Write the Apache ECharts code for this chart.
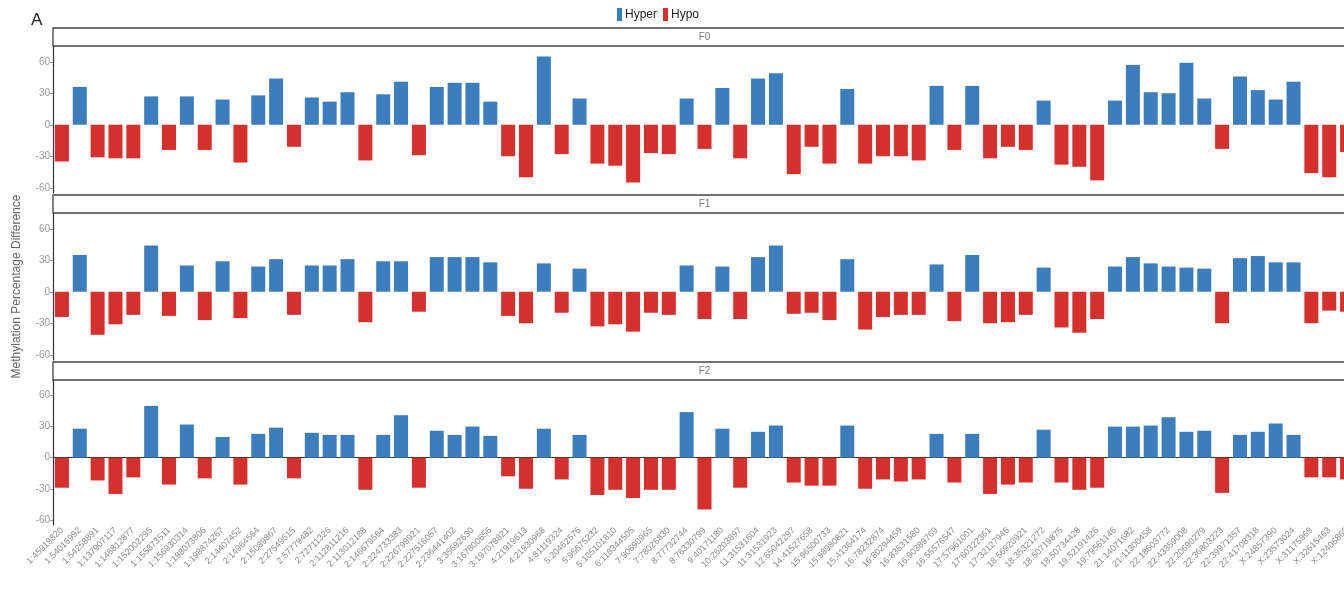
<!DOCTYPE html>
<html>
<head>
<meta charset="utf-8">
<script src="https://cdn.jsdelivr.net/npm/echarts@6/dist/echarts.min.js"></script>
<style>html,body{margin:0;padding:0;background:#fff}#c{width:1344px;height:605px}</style>
</head>
<body>
<div id="c"></div>
<script>
const categories = [
"1:45919820","1:54016992","1:54258891","1:137907117","1:146812877","1:152002295","1:155873511","1:156930314","1:198073806","1:198874267",
"2:14407452","2:14964564","2:15089867","2:27549615","2:57779482","2:72711326","2:112811216","2:113012188","2:146679564","2:224733383",
"2:226799921","2:227516057","2:236441402","3:35692630","3:167800656","3:197078821","4:21919613","4:21930968","4:81119324","5:20462576",
"5:95675232","5:105101810","6:118344505","7:90690965","7:78026830","8:77732744","8:76330799","9:40171180","10:26203897","11:31531604",
"11:31531923","12:65042297","14:41527658","15:96500733","15:98980821","15:41364174","16:78232874","16:80294459","16:83631580","16:90389769",
"16:55576547","17:57961001","17:60322361","17:32127946","18:56920921","18:35321272","18:50719875","18:50734428","19:52191426","19:79561146",
"21:14071682","21:11300458","22:18603772","22:43359008","22:20690279","22:36803223","22:39971357","22:41708318","X:24857390","X:23573024",
"X:31175969","X:32615463","X:12406869"
];
const panels = ["F0", "F1", "F2"];
const valuesF0 = [
-35,36,-31,-32,-32,27,-24,27,-24,24,
-36,28,44,-21,26,22,31,-34,29,41,
-29,36,40,40,22,-30,-50,65,-28,25,
-37,-39,-55,-27,-28,25,-23,35,-32,44,
49,-47,-21,-37,34,-37,-30,-30,-34,37,
-24,37,-32,-21,-24,23,-38,-40,-53,23,
57,31,30,59,25,-23,46,33,24,41,
-46,-50,-26
];
const valuesF1 = [
-24,35,-41,-31,-22,44,-23,25,-27,29,
-25,24,31,-22,25,25,31,-29,29,29,
-19,33,33,33,28,-23,-30,27,-20,22,
-33,-31,-38,-20,-22,25,-26,24,-26,33,
44,-21,-20,-27,31,-36,-24,-22,-22,26,
-28,35,-30,-29,-22,23,-34,-39,-26,24,
33,27,24,23,22,-30,32,34,28,28,
-30,-18,-19
];
const valuesF2 = [
-29,28,-22,-35,-19,50,-26,32,-20,20,
-26,23,29,-20,24,22,22,-31,22,41,
-29,26,22,30,21,-18,-30,28,-21,22,
-36,-31,-39,-31,-31,44,-50,28,-29,25,
31,-24,-27,-27,31,-30,-21,-23,-21,23,
-24,23,-35,-26,-24,27,-24,-31,-29,30,
30,31,39,25,26,-34,22,25,33,22,
-19,-19,-21
];
const panelValues = [valuesF0, valuesF1, valuesF2];
const yTicks = [-60, -30, 0, 30, 60];
const legendNames = ["Hyper", "Hypo"];

const BLUE = "#3b7dbd", RED = "#d6302c";
const L = 53, W = 1303;
const tops = [46, 213, 380];
const H = 147;
const stripH = 18;

const chart = echarts.init(document.getElementById('c'), null, {renderer: 'canvas'});
const grids = [], xAxes = [], yAxes = [], series = [], graphics = [];
panels.forEach((p, i) => {
  grids.push({left: L, width: W, top: tops[i], height: H - (i === 2 ? 2 : 0), containLabel: false, outerBoundsMode: 'none'});
  xAxes.push({
    type: 'category', gridIndex: i, data: categories,
    axisLine: {show: i === 2, lineStyle: {color: '#333', width: 1.2}},
    axisTick: {show: false},
    axisLabel: i === 2 ? {show: true, interval: 0, rotate: 45, fontSize: 9, color: '#8a8a8a', margin: 4, fontFamily: 'Liberation Sans'} : {show: false}
  });
  yAxes.push({
    type: 'value', gridIndex: i, min: -65, max: 75,
    axisLine: {show: true, onZero: false, lineStyle: {color: '#333', width: 1.2}},
    axisTick: {show: true, length: 3, lineStyle: {color: '#999'}, customValues: yTicks},
    axisLabel: {color: '#9a9a9a', fontSize: 10, margin: 3, customValues: yTicks, fontFamily: 'Liberation Sans'},
    splitLine: {show: false},
    name: i === 1 ? 'Methylation Percentage Difference' : '',
    nameLocation: 'middle', nameGap: 30, nameRotate: 90,
    nameTextStyle: {color: '#666', fontSize: 12, fontFamily: 'Liberation Sans'}
  });
  const vals = panelValues[i];
  series.push({
    name: legendNames[0], type: 'bar', xAxisIndex: i, yAxisIndex: i,
    data: vals.map(v => v > 0 ? v : '-'), barWidth: 14, barGap: '-100%',
    itemStyle: {color: BLUE}
  });
  series.push({
    name: legendNames[1], type: 'bar', xAxisIndex: i, yAxisIndex: i,
    data: vals.map(v => v < 0 ? v : '-'), barWidth: 14, barGap: '-100%',
    itemStyle: {color: RED}
  });
  graphics.push({
    type: 'rect', shape: {x: L, y: tops[i] - stripH, width: 1400, height: stripH},
    style: {fill: '#fff', stroke: '#444', lineWidth: 1.3}, z: 10
  });
  graphics.push({
    type: 'text', x: L + W / 2, y: tops[i] - stripH / 2,
    style: {text: p, fill: '#777', fontSize: 10, align: 'center', verticalAlign: 'middle', fontFamily: 'Liberation Sans'}, z: 11
  });
});
graphics.push({type: 'text', x: 31, y: 12, style: {text: 'A', fill: '#222', fontSize: 17, fontFamily: 'Liberation Sans'}});

chart.setOption({
  animation: false,
  backgroundColor: '#fff',
  legend: {
    data: legendNames, left: 612, top: 3, icon: 'rect', itemWidth: 5, itemHeight: 13, itemGap: 6,
    textStyle: {fontSize: 12, color: '#222', fontFamily: 'Liberation Sans', padding: [0, 0, 0, -2]}
  },
  grid: grids, xAxis: xAxes, yAxis: yAxes, series: series, graphic: graphics
});
</script>
</body>
</html>
